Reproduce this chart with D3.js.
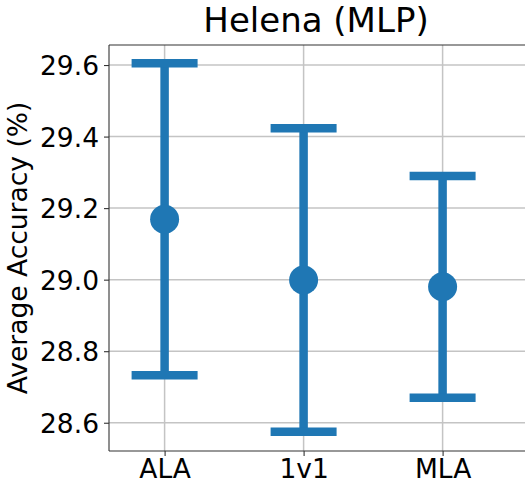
<!DOCTYPE html>
<html>
<head>
<meta charset="utf-8">
<script src="https://cdn.jsdelivr.net/npm/d3@7"></script>
<style>
  body { margin: 0; background: #fff; }
  svg { display: block; font-family: 'DejaVu Sans', sans-serif; }
</style>
</head>
<body>
<div id="chart"></div>
<script>
const categories = ['ALA', '1v1', 'MLA'];
const means = [29.169, 28.999, 28.980];
const errors = [0.436, 0.424, 0.310];
const yTicks = [28.6, 28.8, 29.0, 29.2, 29.4, 29.6];

const width = 525, height = 480;
const margin = { top: 45, right: -1, bottom: 29, left: 109 };
const color = '#1f77b4';

const svg = d3.select('#chart').append('svg')
  .attr('width', width)
  .attr('height', height);

const x = d3.scaleLinear()
  .domain([-0.4, 2.6])
  .range([margin.left, width - margin.right]);

const y = d3.scaleLinear()
  .domain([28.521, 29.656])
  .range([height - margin.bottom, margin.top]);

const g = svg.append('g');

// grid
g.selectAll('.hgrid')
  .data(yTicks)
  .enter().append('line')
  .attr('x1', x.range()[0]).attr('x2', x.range()[1])
  .attr('y1', d => y(d)).attr('y2', d => y(d))
  .attr('stroke', '#c4c4c4')
  .attr('stroke-width', 1.5);

g.selectAll('.vgrid')
  .data(categories)
  .enter().append('line')
  .attr('x1', (d, i) => x(i)).attr('x2', (d, i) => x(i))
  .attr('y1', y.range()[0]).attr('y2', y.range()[1])
  .attr('stroke', '#c4c4c4')
  .attr('stroke-width', 1.5);

// axes
const yAxis = d3.axisLeft(y)
  .tickValues(yTicks)
  .tickFormat(d3.format('.1f'))
  .tickSize(5)
  .tickPadding(5);

const xAxis = d3.axisBottom(x)
  .tickValues(d3.range(categories.length))
  .tickFormat(i => categories[i])
  .tickSize(5)
  .tickPadding(3);

const ya = svg.append('g')
  .attr('transform', `translate(${margin.left},0)`)
  .call(yAxis);

const xa = svg.append('g')
  .attr('transform', `translate(0,${height - margin.bottom})`)
  .call(xAxis);

[ya, xa].forEach(a => {
  a.select('.domain').remove();
  a.selectAll('.tick line').attr('stroke', '#333').attr('stroke-width', 1.1);
  a.selectAll('.tick text')
    .attr('fill', '#000')
    .attr('font-size', '26.5px')
    .attr('font-family', "'DejaVu Sans', sans-serif");
});
ya.selectAll('.tick text').attr('dy', '0.36em');
xa.selectAll('.tick text').attr('dy', '0.71em');

// spines
const [x0, x1] = x.range();
const [yb, yt] = y.range();
svg.append('line')
  .attr('x1', x0).attr('x2', x0).attr('y1', yb).attr('y2', yt)
  .attr('stroke', '#333').attr('stroke-width', 1.1);
svg.append('line')
  .attr('x1', x0).attr('x2', x1).attr('y1', yb).attr('y2', yb)
  .attr('stroke', '#333').attr('stroke-width', 1.1);
svg.append('line')
  .attr('x1', x0).attr('x2', x1).attr('y1', yt).attr('y2', yt)
  .attr('stroke', '#333').attr('stroke-width', 1.1);

// error bars
const capHalf = 33;
const bars = svg.append('g')
  .selectAll('g')
  .data(categories.map((c, i) => ({ c, i, m: means[i], e: errors[i] })))
  .enter().append('g');

bars.append('line')
  .attr('x1', d => x(d.i)).attr('x2', d => x(d.i))
  .attr('y1', d => y(d.m - d.e)).attr('y2', d => y(d.m + d.e))
  .attr('stroke', color).attr('stroke-width', 8.5);

bars.selectAll('.cap')
  .data(d => [d.m - d.e, d.m + d.e].map(v => ({ i: d.i, v })))
  .enter().append('line')
  .attr('x1', d => x(d.i) - capHalf).attr('x2', d => x(d.i) + capHalf)
  .attr('y1', d => y(d.v)).attr('y2', d => y(d.v))
  .attr('stroke', color).attr('stroke-width', 8.5);

bars.append('circle')
  .attr('cx', d => x(d.i))
  .attr('cy', d => y(d.m))
  .attr('r', 14.5)
  .attr('fill', color);

// title & label
svg.append('text')
  .attr('x', 316)
  .attr('y', 32)
  .attr('text-anchor', 'middle')
  .attr('font-size', '34px')
  .attr('fill', '#000')
  .text('Helena (MLP)');

svg.append('text')
  .attr('transform', `translate(27,${(yb + yt) / 2}) rotate(-90)`)
  .attr('text-anchor', 'middle')
  .attr('font-size', '26.5px')
  .attr('fill', '#000')
  .text('Average Accuracy (%)');
</script>
</body>
</html>
